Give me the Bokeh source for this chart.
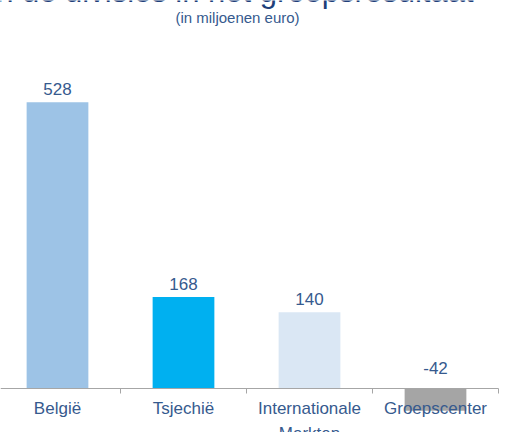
from bokeh.plotting import figure
from bokeh.models import ColumnDataSource, Range1d, LinearAxis, FixedTicker, Label
from bokeh.core.properties import value
from bokeh.embed import file_html
from bokeh.resources import INLINE

# ---- data ----
categories = ["België", "Tsjechië", "Internationale\nMarkten", "Groepscenter"]
values = [528, 168, 140, -42]
value_labels = ["528", "168", "140", "-42"]
bar_colors = ["#9dc3e6", "#00b0f0", "#dae7f4", "#a5a5a5"]
title_text = "Aandeel van de divisies in het groepsresultaat"
subtitle_text = "(in miljoenen euro)"

FONT = "Liberation Sans"
TXT = "#365a8e"

W, H = 505, 432
n = len(categories)
centers = [i + 0.5 for i in range(n)]
bounds_ticks = [i + 1 for i in range(n)]

src = ColumnDataSource(dict(
    x=centers,
    v=values,
    ly=[max(v, 0) for v in values],
    yoff=[-13 if v >= 0 else -20 for v in values],
    label=value_labels,
    color=bar_colors,
))

p = figure(width=W, height=H, output_backend="svg", toolbar_location=None,
           x_range=Range1d(6 / 126, 511 / 126), y_range=Range1d(-82.2, 715.9),
           x_axis_type=None, y_axis_type=None, min_border=0)
p.outline_line_color = None
p.background_fill_color = "white"
p.border_fill_color = "white"

p.vbar(x="x", top="v", bottom=0, width=0.49, fill_color="color",
       line_color=None, source=src)

p.text(x="x", y="ly", text="label", y_offset="yoff", source=src,
       text_align="center", text_baseline="alphabetic",
       text_font=value(FONT), text_font_size="17px", text_color=TXT)

ax = LinearAxis(
    ticker=FixedTicker(ticks=centers, minor_ticks=bounds_ticks),
    fixed_location=0,
    bounds=(6 / 126, n),
    major_label_overrides={c: name for c, name in zip(centers, categories)},
)
ax.axis_line_color = "#a6a6a6"
ax.axis_line_width = 1
ax.major_tick_line_color = None
ax.major_tick_in = 0
ax.major_tick_out = 0
ax.minor_tick_line_color = "#a6a6a6"
ax.minor_tick_in = 0
ax.minor_tick_out = 5
ax.major_label_standoff = 6
ax.major_label_text_font = FONT
ax.major_label_text_font_size = "17px"
ax.major_label_text_color = TXT
ax.major_label_text_line_height = 1.3
p.add_layout(ax, "below")

p.add_layout(Label(x=473, y=H + 9, x_units="screen", y_units="screen",
                   text=title_text, text_align="right", text_baseline="alphabetic",
                   text_font=FONT, text_font_size="31px", text_color="#1f3f7a"))
p.add_layout(Label(x=237, y=H - 17, x_units="screen", y_units="screen",
                   text=subtitle_text, text_align="center", text_baseline="middle",
                   text_font=FONT, text_font_size="15px", text_color=TXT))

open("out.html", "w").write(file_html(p, INLINE))
